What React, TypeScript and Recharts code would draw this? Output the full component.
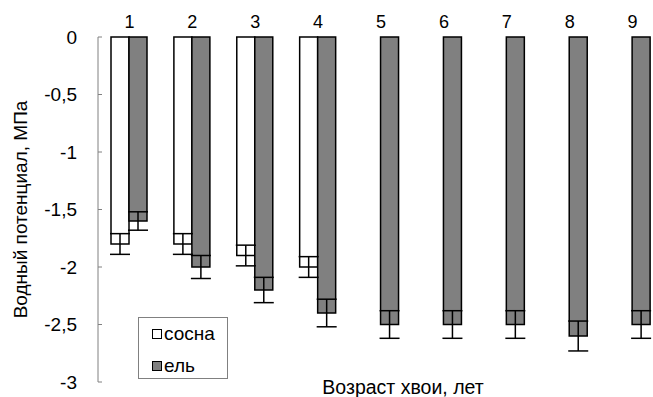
import { BarChart, Bar, XAxis, YAxis, ErrorBar, Legend, Label } from 'recharts';

// возраст хвои, лет
const ages = ['1', '2', '3', '4', '5', '6', '7', '8', '9'];
// водный потенциал, МПа
const pine = [-1.8, -1.8, -1.9, -2.0, null, null, null, null, null];
const pineErr = [0.09, 0.09, 0.09, 0.09, null, null, null, null, null];
const spruce = [-1.6, -2.0, -2.2, -2.4, -2.5, -2.5, -2.5, -2.6, -2.5];
const spruceErr = [0.08, 0.1, 0.11, 0.12, 0.12, 0.12, 0.12, 0.13, 0.12];
const yTicks = [0, -0.5, -1, -1.5, -2, -2.5, -3];
const seriesOrder = ['pine', 'spruce'];

const data = ages.map((age, i) => ({
  age,
  pine: pine[i],
  pineErr: pineErr[i],
  spruce: spruce[i],
  spruceErr: spruceErr[i],
}));

const font = '"Liberation Sans", Arial, sans-serif';

function LegendBox({ payload }: any) {
  const items = [...(payload || [])].sort(
    (a: any, b: any) => seriesOrder.indexOf(a.dataKey) - seriesOrder.indexOf(b.dataKey)
  );
  return (
    <div
      style={{
        border: '1px solid #808080',
        background: '#fff',
        width: 90,
        height: 62,
        boxSizing: 'border-box',
        padding: '4px 0 0 13px',
        fontFamily: font,
        fontSize: 19,
        color: '#000',
      }}
    >
      {items.map((p: any) => (
        <div key={p.value} style={{ display: 'flex', alignItems: 'center', height: 24, marginBottom: 8 }}>
          <span
            style={{
              display: 'inline-block',
              width: 8,
              height: 8,
              border: '1.5px solid #000',
              background: p.payload?.fill ?? p.color,
              marginRight: 2,
            }}
          />
          {p.value}
        </div>
      ))}
    </div>
  );
}

export default function App() {
  return (
    <div style={{ position: 'absolute', left: 0, top: 0, width: 653, height: 397, overflow: 'hidden', background: '#fff' }}>
      <BarChart
        width={680}
        height={397}
        data={data}
        margin={{ top: 7, right: 16, left: 0, bottom: 0 }}
        barGap={0}
      >
        <XAxis
          dataKey="age"
          orientation="top"
          axisLine={false}
          tickLine={false}
          tickSize={0}
          tickMargin={9}
          height={30}
          tick={{ fill: '#000', fontSize: 18, fontFamily: font }}
        />
        <XAxis xAxisId="b" dataKey="age" orientation="bottom" height={15} axisLine={false} tickLine={false} tick={false}>
          <Label
            content={({ viewBox }: any) => (
              <text
                x={viewBox.x + viewBox.width / 2 + 22}
                y={viewBox.y + 12}
                textAnchor="middle"
                fontSize={19.5}
                fontFamily={font}
                fill="#000"
              >
                Возраст хвои, лет
              </text>
            )}
          />
        </XAxis>
        <YAxis
          type="number"
          domain={[-3, 0]}
          ticks={yTicks}
          interval={0}
          width={98}
          stroke="#808080"
          tickSize={-4}
          tickMargin={25}
          tick={{ fill: '#000', fontSize: 19, fontFamily: font }}
          tickFormatter={(v: number) => String(v).replace('.', ',')}
        >
          <Label
            content={({ viewBox }: any) => {
              const cx = 20;
              const cy = viewBox.y + viewBox.height / 2;
              return (
                <text
                  x={cx}
                  y={cy}
                  transform={`rotate(-90 ${cx} ${cy})`}
                  textAnchor="middle"
                  dominantBaseline="central"
                  fontSize={19}
                  fontFamily={font}
                  fill="#000"
                >
                  Водный потенциал, МПа
                </text>
              );
            }}
          />
        </YAxis>
        <Legend
          layout="vertical"
          align="center"
          verticalAlign="middle"
          content={<LegendBox />}
          wrapperStyle={{ left: 138, top: 317, width: 90, height: 62 }}
        />
        <Bar dataKey="pine" name="сосна" fill="#ffffff" stroke="#000" strokeWidth={1.5} barSize={18} isAnimationActive={false}>
          <ErrorBar dataKey="pineErr" width={10} stroke="#000" strokeWidth={1.5} direction="y" />
        </Bar>
        <Bar dataKey="spruce" name="ель" fill="#808080" stroke="#000" strokeWidth={1.5} barSize={18} isAnimationActive={false}>
          <ErrorBar dataKey="spruceErr" width={10} stroke="#000" strokeWidth={1.5} direction="y" />
        </Bar>
      </BarChart>
    </div>
  );
}
